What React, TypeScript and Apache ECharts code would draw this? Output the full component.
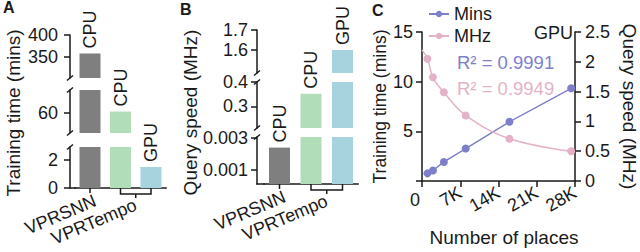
import React, { useEffect, useRef } from 'react';
import * as echarts from 'echarts';

// ---------- data ----------
const barCategories = ['VPRSNN', 'VPRTempo CPU', 'VPRTempo GPU'];
const groupLabels = ['VPRSNN', 'VPRTempo'];
const barDevices = ['CPU', 'CPU', 'GPU'];
const barColors = ['#7f7f7f', '#b2ddb9', '#a7d3df'];
const trainingTimeMins = [358, 61, 1.5];
const querySpeedMHz = [0.0024, 0.352, 1.6];

// broken-axis segments, top to bottom (value ranges + tick labels)
const segRangesA = [[302.3, 400], [40, 82], [0, 2.93]];
const segTicksA = [[350, 400], [60], [0, 2]];
const segRangesB = [[1.485, 1.7], [0.212, 0.4], [0.000125, 0.0030625]];
const segTicksB = [[1.6, 1.7], [0.3, 0.4], [0.001, 0.003]];

const places = [1000, 2000, 4000, 8000, 16000, 27300];
const trainMins = [0.77, 1.06, 1.92, 3.27, 5.96, 9.33];
const speedMHz = [2.05, 1.74, 1.49, 1.1, 0.71, 0.5];
const speedFitAtZero = 2.2;
const r2Mins = '0.9991';
const r2MHz = '0.9949';

// ---------- style / layout ----------
const FONT = '"Liberation Sans", Arial, Helvetica, sans-serif';
const INK = '#1a1a1a';
const PURPLE = '#7e7fca';
const PINK = '#e4b2c7';
const AX_W = 1.5;
const CAT_ROT = (23 * Math.PI) / 180;

const layoutA = { axisX: 70, left: 74.75, width: 91.5, segs: [[35, 43], [90, 43], [147, 41]], margin: 12 };
const layoutB = { axisX: 257, left: 263.75, width: 94.5, segs: [[30, 43], [82, 46], [137, 47]], margin: 9 };

export default function App() {
  const ref = useRef<HTMLDivElement>(null);

  useEffect(() => {
    if (!ref.current) return;
    const chart = echarts.init(ref.current, null, { renderer: 'svg' });

    const grids: any[] = [];
    const xAxes: any[] = [];
    const yAxes: any[] = [];
    const series: any[] = [];
    const bottomIdx: number[] = [];

    const addBroken = (lay: any, ranges: number[][], ticks: number[][], values: number[]) => {
      ranges.forEach((rg, k) => {
        const gi = grids.length;
        const last = k === ranges.length - 1;
        if (last) bottomIdx.push(gi);
        grids.push({ left: lay.left, width: lay.width, top: lay.segs[k][0], height: lay.segs[k][1] });
        xAxes.push({
          type: 'category', gridIndex: gi, data: barCategories, boundaryGap: true,
          axisLine: { show: last, onZero: false, lineStyle: { color: INK, width: AX_W } },
          axisTick: { show: false }, axisLabel: { show: false }, splitLine: { show: false },
        });
        yAxes.push({
          type: 'value', gridIndex: gi, min: rg[0], max: rg[1], offset: lay.left - lay.axisX,
          axisLine: { show: true, lineStyle: { color: INK, width: AX_W } },
          axisTick: { show: true, length: 6, customValues: ticks[k], lineStyle: { color: INK, width: AX_W } },
          axisLabel: {
            customValues: ticks[k], showMinLabel: true, showMaxLabel: true, margin: lay.margin,
            fontSize: 18, color: INK, fontFamily: FONT, formatter: (v: number) => String(v),
          },
          splitLine: { show: false },
        });
        series.push({
          type: 'bar', xAxisIndex: gi, yAxisIndex: gi, barWidth: 21, clip: true,
          data: values.map((v, i) => (v <= rg[0] ? null : {
            value: v, itemStyle: { color: barColors[i] }, label: { show: v <= rg[1] },
          })),
          label: {
            show: true, position: 'top', rotate: 90, align: 'left', verticalAlign: 'middle', distance: 5,
            fontSize: 18, color: INK, fontFamily: FONT, formatter: (p: any) => barDevices[p.dataIndex],
          },
        });
      });
    };

    addBroken(layoutA, segRangesA, segTicksA, trainingTimeMins);
    addBroken(layoutB, segRangesB, segTicksB, querySpeedMHz);

    // panel C
    const gC = grids.length;
    grids.push({ left: 422, width: 155, top: 32, height: 156 });
    xAxes.push({
      type: 'value', gridIndex: gC, min: 0, max: 28000, interval: 7000,
      name: 'Number of places', nameLocation: 'middle', nameGap: 47,
      nameTextStyle: { fontSize: 19, color: INK, fontFamily: FONT, padding: [0, 0, 0, 11] },
      axisLine: { onZero: false, lineStyle: { color: INK, width: AX_W } },
      axisTick: { length: 6, lineStyle: { color: INK, width: AX_W } },
      axisLabel: {
        rotate: 30, margin: 10, fontSize: 18, color: INK, fontFamily: FONT,
        formatter: (v: number) => (v === 0 ? '' : v / 1000 + 'K'),
      },
      splitLine: { show: false },
    });
    const yl = yAxes.length;
    yAxes.push({
      type: 'value', gridIndex: gC, min: 0, max: 15, interval: 5, position: 'left',
      name: 'Training time (mins)', nameLocation: 'middle', nameGap: 31, nameRotate: 90,
      nameTextStyle: { fontSize: 17.5, color: INK, fontFamily: FONT },
      axisLine: { show: true, lineStyle: { color: INK, width: AX_W } },
      axisTick: { show: true, length: 6, lineStyle: { color: INK, width: AX_W } },
      axisLabel: { margin: 9, fontSize: 18, color: INK, fontFamily: FONT, formatter: (v: number) => (v === 0 ? '' : String(v)) },
      splitLine: { show: false },
    });
    yAxes.push({
      type: 'value', gridIndex: gC, min: 0, max: 2.5, interval: 0.5, position: 'right',
      name: 'Query speed (MHz)', nameLocation: 'middle', nameGap: 45, nameRotate: -90,
      nameTextStyle: { fontSize: 19, color: INK, fontFamily: FONT },
      axisLine: { show: true, lineStyle: { color: INK, width: AX_W } },
      axisTick: { show: true, length: 6, lineStyle: { color: INK, width: AX_W } },
      axisLabel: { margin: 10, fontSize: 18, color: INK, fontFamily: FONT, formatter: (v: number) => String(v) },
      splitLine: { show: false },
    });
    series.push({
      name: 'Mins', type: 'line', xAxisIndex: gC, yAxisIndex: yl,
      data: places.map((x, i) => [x, trainMins[i]]),
      symbol: 'circle', symbolSize: 8, color: PURPLE, lineStyle: { width: 1.5, color: PURPLE },
    });
    series.push({
      name: 'MHz', type: 'line', xAxisIndex: gC, yAxisIndex: yl + 1, smooth: 0.4,
      data: [{ value: [0, speedFitAtZero], symbol: 'none' }, ...places.map((x, i) => [x, speedMHz[i]])],
      symbol: 'circle', symbolSize: 8, color: PINK, lineStyle: { width: 1.5, color: PINK },
    });

    const option: any = {
      animation: false,
      grid: grids, xAxis: xAxes, yAxis: yAxes, series,
      legend: {
        data: ['Mins', 'MHz'], orient: 'vertical', left: 428, top: 5, padding: 0, itemGap: 4,
        itemWidth: 20, itemHeight: 8, textStyle: { fontSize: 18, color: INK, fontFamily: FONT },
      },
    };
    chart.setOption(option);

    // decorations computed from axes
    const g: any[] = [];
    const txt = (text: string, x: number, y: number, o: any = {}) => ({
      type: 'text', x, y, rotation: o.rotation || 0,
      style: {
        text, fill: o.fill || INK, font: `${o.weight || 'normal'} ${o.size || 18}px ${FONT}`,
        align: o.align || 'left', verticalAlign: o.va || 'middle',
      },
    });
    const ln = (x1: number, y1: number, x2: number, y2: number) => ({
      type: 'line', shape: { x1, y1, x2, y2 }, style: { stroke: INK, lineWidth: AX_W },
    });

    [layoutA, layoutB].forEach((lay, pi) => {
      // break slashes
      for (let k = 0; k < lay.segs.length - 1; k++) {
        const yb = lay.segs[k][0] + lay.segs[k][1];
        const yt = lay.segs[k + 1][0];
        [yb, yt].forEach((y) => g.push(ln(lay.axisX - 3, y + 2.5, lay.axisX + 3, y - 2.5)));
      }
      const bi = bottomIdx[pi];
      const minVal = pi === 0 ? segRangesA[2][0] : segRangesB[2][0];
      const base = chart.convertToPixel({ yAxisIndex: bi }, minVal) as number;
      const cx = barCategories.map((c) => chart.convertToPixel({ xAxisIndex: bi }, c) as number);
      g.push(ln(lay.axisX - 0.75, base, lay.left + 1, base));
      // VPRSNN tick
      g.push(ln(cx[0], base, cx[0], base + 5));
      // VPRTempo bracket
      g.push({
        type: 'polyline',
        shape: { points: [[cx[1], base], [cx[1], base + 6], [cx[2], base + 6], [cx[2], base]] },
        style: { stroke: INK, lineWidth: AX_W, fill: null },
      });
      const mid = (cx[1] + cx[2]) / 2;
      g.push(ln(mid, base + 6, mid, base + 10));
      g.push(txt(groupLabels[0], cx[0] + 5, base + 12, { size: 18, align: 'right', rotation: CAT_ROT }));
      g.push(txt(groupLabels[1], mid, base + 16, { size: 18, align: 'right', rotation: CAT_ROT }));
    });

    // y titles for broken panels
    g.push(txt('Training time (mins)', 13, 113, { size: 19, align: 'center', rotation: Math.PI / 2 }));
    g.push(txt('Query speed (MHz)', 190, 112.5, { size: 19, align: 'center', rotation: Math.PI / 2 }));
    // panel letters
    g.push(txt('A', 3, -1, { weight: 'bold', size: 16, va: 'top' }));
    g.push(txt('B', 180, 1, { weight: 'bold', size: 16, va: 'top' }));
    g.push(txt('C', 372, 2, { weight: 'bold', size: 16, va: 'top' }));
    // panel C annotations
    g.push(txt('0', 415, 200, { align: 'center' }));
    g.push(txt('GPU', 573, 33, { align: 'right' }));
    g.push(txt('R\u00b2 = ' + r2Mins, 457, 62, { fill: PURPLE, size: 18.5 }));
    g.push(txt('R\u00b2 = ' + r2MHz, 457, 88, { fill: PINK, size: 18.5 }));

    chart.setOption({ graphic: g });

    return () => chart.dispose();
  }, []);

  return <div ref={ref} style={{ width: 640, height: 252, position: 'absolute', left: 0, top: 0 }} />;
}
